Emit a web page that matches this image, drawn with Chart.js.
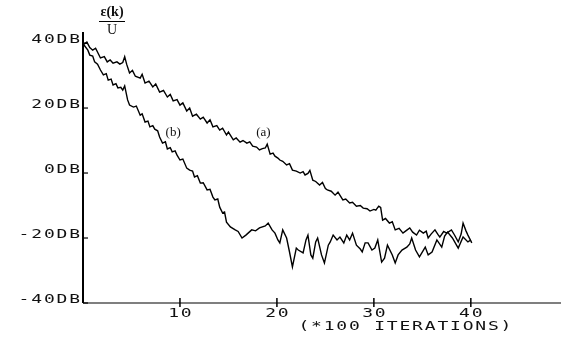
<!DOCTYPE html>
<html>
<head>
<meta charset="utf-8">
<script src="https://cdn.jsdelivr.net/npm/chart.js@4.4.1/dist/chart.umd.min.js"></script>
<style>
html, body { margin: 0; padding: 0; background: #fff; }
#wrap { width: 561px; height: 338px; }
</style>
</head>
<body>
<div id="wrap"><canvas id="myChart" width="561" height="338"></canvas></div>
<script>
// curve (a): x in units of 100 iterations, y in dB
const xA = [0.0, 0.4, 0.7, 1.0, 1.3, 1.8, 2.2, 2.5, 2.8, 3.1, 3.5, 3.8, 4.1, 4.3, 4.5, 4.8, 5.1, 5.4, 5.9, 6.1,
    6.4, 6.8, 7.2, 7.5, 7.9, 8.3, 8.7, 9.0, 9.3, 9.7, 10.0, 10.3, 10.7, 11.0, 11.3, 11.7, 12.1, 12.4, 12.8, 13.1,
    13.4, 13.8, 14.1, 14.4, 14.8, 15.0, 15.5, 15.8, 16.2, 16.5, 16.9, 17.2, 17.5, 17.9, 18.2, 18.5, 18.8, 19.0, 19.3, 19.6,
    19.8, 20.1, 20.3, 20.6, 21.0, 21.3, 21.6, 22.0, 22.4, 22.7, 22.9, 23.2, 23.4, 23.7, 24.0, 24.4, 24.7, 25.0, 25.2, 25.6,
    26.0, 26.3, 26.8, 27.1, 27.5, 27.8, 28.2, 28.6, 28.9, 29.3, 29.6, 30.0, 30.2, 30.5, 30.7, 30.9, 31.2, 31.6, 31.9, 32.2,
    32.6, 33.0, 33.3, 33.7, 34.0, 34.4, 34.7, 35.1, 35.4, 35.6, 35.9, 36.3, 36.6, 36.8, 37.2, 37.5, 38.0, 38.3, 38.7, 39.0,
    39.2, 39.5, 39.7, 40.1];
const yA = [39.4, 40.3, 38.6, 37.8, 38.4, 35.4, 35.8, 34.2, 34.8, 33.8, 34.2, 33.5, 34.0, 35.8, 33.5, 30.8, 31.6, 29.8, 29.2, 30.4,
    27.7, 28.3, 26.5, 27.4, 24.9, 25.4, 23.4, 24.2, 22.2, 22.6, 20.9, 21.6, 19.1, 20.0, 17.5, 18.1, 16.6, 17.2, 15.4, 16.4,
    14.2, 14.6, 13.2, 13.8, 11.7, 12.6, 10.2, 10.8, 9.5, 10.0, 9.2, 9.6, 8.3, 8.0, 7.1, 7.5, 7.7, 8.9, 5.8, 6.1,
    5.2, 4.6, 4.0, 3.6, 2.5, 2.9, 0.9, 0.6, 0.0, 0.4, -0.6, -0.1, 0.8, -2.2, -2.6, -3.7, -2.9, -4.8, -5.2, -5.6,
    -6.8, -5.9, -8.3, -8.0, -9.2, -9.0, -10.2, -10.0, -10.8, -11.0, -11.7, -11.2, -11.4, -10.2, -10.6, -14.5, -14.0, -15.4, -15.0, -17.5,
    -17.0, -18.5, -17.8, -16.9, -18.2, -19.1, -17.6, -18.5, -17.9, -20.0, -18.8, -17.5, -18.9, -19.7, -18.0, -18.5, -17.5, -19.0, -21.2, -18.8,
    -15.4, -17.8, -19.1, -21.5];

// curve (b)
const xB = [0.1, 0.5, 0.7, 1.0, 1.2, 1.5, 1.8, 2.1, 2.4, 2.6, 2.9, 3.1, 3.4, 3.6, 3.9, 4.1, 4.3, 4.6, 4.8, 5.2,
    5.5, 5.9, 6.1, 6.4, 6.7, 6.9, 7.2, 7.4, 7.7, 7.9, 8.2, 8.5, 8.7, 9.0, 9.2, 9.5, 9.7, 10.0, 10.3, 10.7,
    11.0, 11.3, 11.5, 11.8, 12.1, 12.4, 12.8, 13.1, 13.4, 13.6, 13.9, 14.1, 14.4, 14.6, 14.8, 15.2, 15.7, 16.0, 16.4, 16.8,
    17.4, 17.8, 18.2, 18.8, 19.1, 19.5, 19.8, 20.1, 20.3, 20.6, 21.0, 21.3, 21.6, 22.0, 22.2, 22.7, 23.0, 23.2, 23.5, 23.7,
    24.0, 24.2, 24.6, 24.9, 25.3, 25.5, 25.8, 26.2, 26.5, 26.9, 27.2, 27.5, 27.8, 28.2, 28.6, 28.8, 29.1, 29.4, 29.8, 30.1,
    30.4, 30.8, 31.1, 31.4, 31.9, 32.2, 32.5, 32.9, 33.4, 33.7, 33.9, 34.3, 34.7, 35.3, 35.6, 36.0, 36.5, 37.0, 37.3, 37.6,
    38.1, 38.7, 39.2, 39.7, 40.0];
const yB = [39.4, 37.8, 36.3, 36.0, 34.2, 33.5, 31.7, 30.2, 30.6, 28.6, 28.9, 27.1, 27.5, 26.2, 26.4, 25.5, 26.8, 22.5, 20.9, 20.3,
    20.6, 17.8, 18.2, 15.7, 16.0, 14.2, 14.6, 13.5, 13.0, 11.1, 9.2, 9.6, 7.4, 7.8, 6.5, 6.8, 5.5, 4.0, 4.3, 1.5,
    0.9, 0.6, -1.2, -0.8, -3.1, -3.0, -5.2, -5.0, -7.4, -8.3, -8.0, -10.5, -12.3, -12.0, -15.1, -16.6, -17.5, -18.0, -20.0, -19.1,
    -17.5, -17.8, -16.9, -16.3, -15.4, -17.5, -18.5, -20.6, -21.5, -17.5, -20.0, -24.3, -28.9, -23.1, -23.7, -24.6, -20.6, -19.1, -25.2, -26.2,
    -21.2, -20.0, -25.2, -27.7, -22.2, -21.2, -19.1, -20.6, -19.7, -21.5, -19.1, -20.6, -18.5, -22.2, -23.4, -24.3, -21.5, -21.5, -23.7, -23.1,
    -20.6, -27.4, -26.2, -22.2, -25.2, -27.7, -25.2, -23.7, -22.8, -21.8, -20.0, -23.7, -25.8, -22.8, -25.2, -24.3, -20.6, -22.8, -19.4, -18.2,
    -20.0, -23.1, -19.7, -21.2, -20.6];

const yTickValues = [40, 20, 0, -20, -40];
const yTickLabels = ['40DB', '20DB', '0DB', '-20DB', '-40DB'];
const xTickValues = [10, 20, 30, 40];
const xTickLabels = ['10', '20', '30', '40'];
const xTitle = '(*100 ITERATIONS)';

const noteLabels = ['(a)', '(b)'];
const noteX = [18.6, 9.3];
const noteY = [12.3, 12.3];

function toPoints(xs, ys) {
    return xs.map((x, i) => ({x: x, y: ys[i]}));
}

// blocky, wide plotter lettering
function plotterText(ctx, str, x, y, align) {
    ctx.save();
    ctx.font = '12px "DejaVu Sans Mono"';
    ctx.letterSpacing = '1.2px';
    const stretch = 1.5;
    const w = (ctx.measureText(str).width - 1.2) * stretch;
    let left = x;
    if (align === 'right') left = x - w;
    if (align === 'center') left = x - w / 2;
    ctx.translate(left, y);
    ctx.scale(stretch, 1);
    ctx.textAlign = 'left';
    ctx.textBaseline = 'middle';
    ctx.fillStyle = '#111';
    ctx.fillText(str, 0, 0);
    ctx.restore();
}

const paperAxes = {
    id: 'paperAxes',
    afterDraw(chart) {
        const ctx = chart.ctx;
        const xs = chart.scales.x;
        const ys = chart.scales.y;
        const area = chart.chartArea;
        ctx.save();
        ctx.strokeStyle = '#000';

        ctx.lineWidth = 2;
        ctx.beginPath();
        ctx.moveTo(area.left, area.top);
        ctx.lineTo(area.left, area.bottom);
        ctx.stroke();

        ctx.lineWidth = 1.2;
        ctx.beginPath();
        ctx.moveTo(area.left, area.bottom);
        ctx.lineTo(area.right, area.bottom);
        ctx.stroke();

        // y ticks: short marks inside the axis
        yTickValues.forEach((v, i) => {
            const py = ys.getPixelForValue(v);
            ctx.lineWidth = 1.2;
            ctx.beginPath();
            ctx.moveTo(area.left, py);
            ctx.lineTo(area.left + 5, py);
            ctx.stroke();
            plotterText(ctx, yTickLabels[i], area.left - 3, py - 3, 'right');
        });

        // x ticks cross the axis
        xTickValues.forEach((v, i) => {
            const px = xs.getPixelForValue(v);
            ctx.lineWidth = 1.5;
            ctx.beginPath();
            ctx.moveTo(px, area.bottom - 5);
            ctx.lineTo(px, area.bottom + 4);
            ctx.stroke();
            plotterText(ctx, xTickLabels[i], px, area.bottom + 11, 'center');
        });
        plotterText(ctx, xTitle, xs.getPixelForValue(33.2), area.bottom + 24, 'center');

        // curve annotations
        ctx.fillStyle = '#111';
        ctx.font = '13px "Liberation Serif"';
        ctx.textAlign = 'center';
        ctx.textBaseline = 'middle';
        noteLabels.forEach((t, i) => {
            ctx.fillText(t, xs.getPixelForValue(noteX[i]), ys.getPixelForValue(noteY[i]));
        });

        // y axis quantity: e(k) over U
        const cx = area.left + 29;
        ctx.font = 'bold 14px "Liberation Serif"';
        ctx.fillText('\u03b5(k)', cx, 12);
        ctx.lineWidth = 1;
        ctx.beginPath();
        ctx.moveTo(cx - 13, 21.5);
        ctx.lineTo(cx + 13, 21.5);
        ctx.stroke();
        ctx.font = '14px "Liberation Serif"';
        ctx.fillText('U', cx, 30);
        ctx.restore();
    }
};

const myChart = new Chart('myChart', {
    type: 'line',
    data: {
        datasets: [{
            label: '(a)',
            data: toPoints(xA, yA),
            borderColor: '#000',
            borderWidth: 1.4,
            pointRadius: 0,
            tension: 0,
            fill: false
        }, {
            label: '(b)',
            data: toPoints(xB, yB),
            borderColor: '#000',
            borderWidth: 1.4,
            pointRadius: 0,
            tension: 0,
            fill: false
        }]
    },
    options: {
        responsive: false,
        animation: false,
        devicePixelRatio: 1,
        layout: {padding: {left: 83, right: 0, top: 32, bottom: 35}},
        plugins: {legend: {display: false}, tooltip: {enabled: false}},
        scales: {
            x: {type: 'linear', min: 0, max: 49.3, display: false},
            y: {type: 'linear', min: -40, max: 43.4, display: false}
        }
    },
    plugins: [paperAxes]
});
</script>
</body>
</html>
